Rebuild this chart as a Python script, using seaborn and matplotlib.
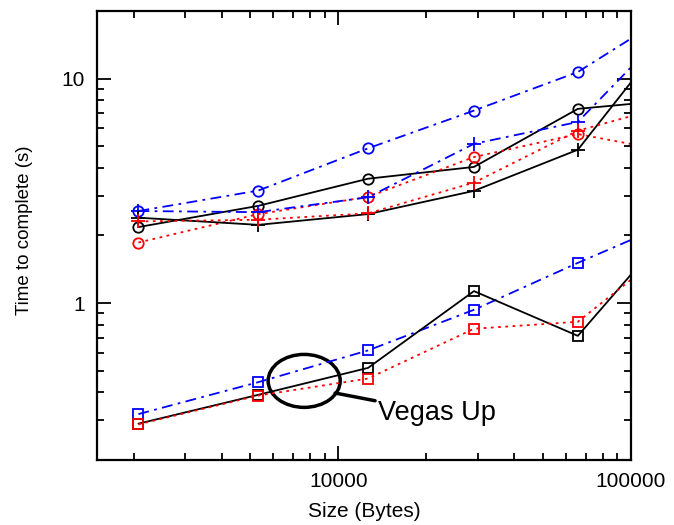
import numpy as np
import pandas as pd
import seaborn as sns
import matplotlib.pyplot as plt
from matplotlib.patches import Ellipse
from matplotlib.ticker import LogLocator, NullFormatter, FixedLocator, FixedFormatter

# transfer sizes (last point lies beyond the axis and gets clipped)
sizes = [2077, 5333, 12650, 29100, 65900, 150000]

# upper group (circles / pluses)
blue_circle = [2.57, 3.17, 4.89, 7.2, 10.7, 21.0]
black_circle = [2.18, 2.71, 3.58, 4.04, 7.33, 8.1]
red_circle = [1.86, 2.49, 2.97, 4.47, 5.66, 4.63]
blue_plus = [2.57, 2.54, 2.96, 5.12, 6.41, 19.3]
black_plus = [2.40, 2.23, 2.49, 3.16, 4.82, 18.8]
red_plus = [2.31, 2.35, 2.51, 3.44, 5.86, 7.85]

# lower group (squares)
blue_square = [0.32, 0.444, 0.615, 0.933, 1.51, 2.40]
black_square = [0.29, 0.39, 0.514, 1.13, 0.714, 2.46]
red_square = [0.288, 0.387, 0.461, 0.768, 0.825, 1.93]

sns.set_style("ticks", {"axes.edgecolor": "black", "text.color": "black",
                        "xtick.color": "black", "ytick.color": "black",
                        "axes.labelcolor": "black"})
plt.rcParams["font.family"] = ["Liberation Sans", "DejaVu Sans"]

fig = plt.figure(figsize=(6.74, 5.25), dpi=100)
ax = fig.add_axes([0.144, 0.124, 0.792, 0.855])

series = [
    (blue_circle, "blue", "-.", "o"),
    (black_circle, "black", "-", "o"),
    (red_circle, "red", ":", "o"),
    (blue_plus, "blue", "-.", "+"),
    (black_plus, "black", "-", "+"),
    (red_plus, "red", ":", "+"),
    (blue_square, "blue", "-.", "s"),
    (black_square, "black", "-", "s"),
    (red_square, "red", ":", "s"),
]

for vals, col, ls, mk in series:
    df = pd.DataFrame({"size": sizes, "time": vals})
    ms = 10 if mk == "+" else 7.5
    sns.lineplot(data=df, x="size", y="time", ax=ax, color=col, linestyle=ls,
                 marker=mk, markersize=ms, markerfacecolor="none",
                 markeredgecolor=col, markeredgewidth=1.3, linewidth=1.3)
    if ls == ":":
        ax.lines[-1].set_dashes([1.5, 2.5])
    elif ls == "-.":
        ax.lines[-1].set_dashes([6, 3, 1.5, 3])

ax.set_xscale("log")
ax.set_yscale("log")
ax.set_xlim(1500, 100000)
ax.set_ylim(0.2, 20)

ax.xaxis.set_major_locator(FixedLocator([10000, 100000]))
ax.xaxis.set_major_formatter(FixedFormatter(["10000", "100000"]))
ax.xaxis.set_minor_locator(LogLocator(base=10, subs=np.arange(2, 10)))
ax.xaxis.set_minor_formatter(NullFormatter())
ax.yaxis.set_major_locator(FixedLocator([1, 10]))
ax.yaxis.set_major_formatter(FixedFormatter(["1", "10"]))
ax.yaxis.set_minor_locator(LogLocator(base=10, subs=np.arange(2, 10)))
ax.yaxis.set_minor_formatter(NullFormatter())

ax.tick_params(which="both", direction="in", top=True, right=True, width=1.3)
ax.tick_params(which="major", length=10, labelsize=15, pad=9)
ax.tick_params(which="minor", length=5)
for sp in ax.spines.values():
    sp.set_linewidth(1.6)

ax.set_xlabel("Size (Bytes)", fontsize=15)
ax.set_ylabel("Time to complete (s)", fontsize=13.5)
ax.xaxis.set_label_coords(0.5, -0.093)
ax.yaxis.set_label_coords(-0.12, 0.511)

# annotation
ax.add_patch(Ellipse((0.388, 0.176), 0.135, 0.118, transform=ax.transAxes,
                     fill=False, edgecolor="black", linewidth=2.5))
ax.annotate("Vegas Up", xy=(0.446, 0.149), xycoords="axes fraction",
            xytext=(0.527, 0.105), textcoords="axes fraction",
            fontsize=19.5, va="center", ha="left",
            arrowprops=dict(arrowstyle="-", color="black", lw=2.5,
                            shrinkA=0, shrinkB=0))

plt.savefig("out.png", dpi=100, facecolor="white")
